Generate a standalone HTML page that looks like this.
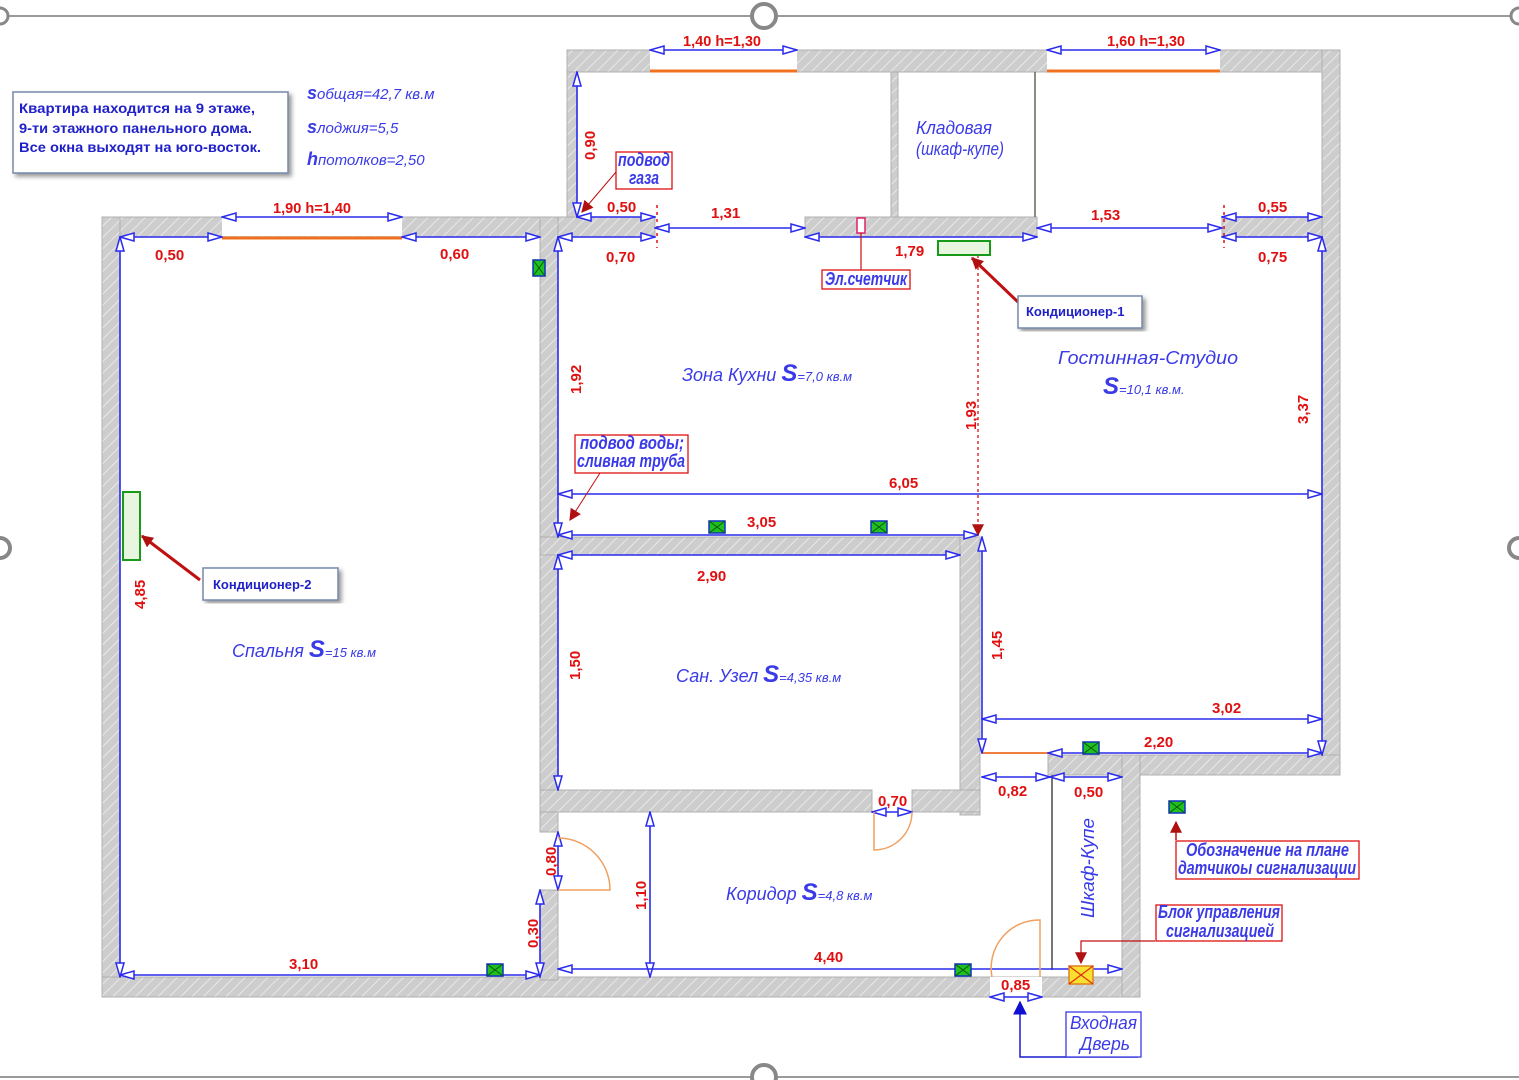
<!DOCTYPE html>
<html><head><meta charset="utf-8"><style>
html,body{margin:0;padding:0;background:#fff;}
svg{display:block;}
.d{fill:#e01010;font-family:"Liberation Sans",sans-serif;font-weight:bold;font-size:15px;}
.b{fill:#3a3ae8;font-family:"Liberation Sans",sans-serif;font-style:italic;font-size:18px;}
.dim{stroke:#2a2aee;stroke-width:1.6;fill:none;marker-start:url(#ar);marker-end:url(#ar);}
.w{fill:url(#h);stroke:#b0b0b0;stroke-width:1;}
</style></head><body>
<svg width="1519" height="1080" viewBox="0 0 1519 1080" xmlns="http://www.w3.org/2000/svg">
<defs>
<pattern id="h" width="8" height="8" patternUnits="userSpaceOnUse" patternTransform="rotate(45)">
<rect width="8" height="8" fill="#cdcdcd"/><line x1="0" y1="0" x2="0" y2="8" stroke="#e8e8e8" stroke-width="2"/>
</pattern>
<marker id="ar" viewBox="0 0 16 10" refX="15" refY="5" markerWidth="16" markerHeight="10" markerUnits="userSpaceOnUse" orient="auto-start-reverse">
<path d="M1,1 L15,5 L1,9 Z" fill="#fff" stroke="#2a2aee" stroke-width="1.5"/>
</marker>
<marker id="rr" viewBox="0 0 10 10" refX="9" refY="5" markerWidth="12" markerHeight="12" markerUnits="userSpaceOnUse" orient="auto">
<path d="M0,0 L10,5 L0,10 Z" fill="#b01010"/>
</marker>
<marker id="bb" viewBox="0 0 10 10" refX="9" refY="5" markerWidth="14" markerHeight="14" markerUnits="userSpaceOnUse" orient="auto">
<path d="M0,0 L10,5 L0,10 Z" fill="#1010d0"/>
</marker>
<g id="sen"><rect x="0" y="0" width="16" height="12" fill="#20c020" stroke="#1030c0" stroke-width="1.5"/><path d="M0,0 L16,12 M16,0 L0,12" stroke="#0a5a0a" stroke-width="1"/></g>
<filter id="sh"><feDropShadow dx="3" dy="3" stdDeviation="2" flood-color="#555" flood-opacity="0.6"/></filter>
</defs>

<line x1="0" y1="16" x2="1519" y2="16" stroke="#9a9a9a" stroke-width="2"/>
<line x1="0" y1="1077" x2="1519" y2="1077" stroke="#9a9a9a" stroke-width="2"/>
<circle cx="764" cy="16" r="12" fill="#fff" stroke="#888" stroke-width="4"/>
<circle cx="764" cy="1077" r="12" fill="#fff" stroke="#888" stroke-width="4"/>
<circle cx="0" cy="548" r="10" fill="#fff" stroke="#888" stroke-width="4"/>
<circle cx="1519" cy="548" r="10" fill="#fff" stroke="#888" stroke-width="4"/>
<circle cx="0" cy="16" r="8" fill="#fff" stroke="#888" stroke-width="3"/>
<circle cx="1519" cy="16" r="8" fill="#fff" stroke="#888" stroke-width="3"/>

<rect class="w" x="102" y="217" width="456" height="20"/>
<rect class="w" x="102" y="217" width="18" height="780"/>
<rect class="w" x="102" y="977" width="1038" height="20"/>
<rect class="w" x="540" y="217" width="18" height="615"/>
<rect class="w" x="540" y="890" width="18" height="90"/>
<rect class="w" x="567" y="50" width="10" height="187"/>
<rect class="w" x="567" y="50" width="773" height="22"/>
<rect class="w" x="1322" y="50" width="18" height="725"/>
<rect class="w" x="558" y="217" width="97" height="20"/>
<rect class="w" x="805" y="217" width="232" height="20"/>
<rect class="w" x="1222" y="217" width="100" height="20"/>
<rect class="w" x="891" y="72" width="7" height="145"/>
<rect class="w" x="540" y="537" width="440" height="18"/>
<rect class="w" x="960" y="537" width="20" height="278"/>
<rect class="w" x="540" y="790" width="332" height="22"/>
<rect class="w" x="912" y="790" width="68" height="22"/>
<rect class="w" x="1048" y="755" width="292" height="20"/>
<rect class="w" x="1122" y="755" width="18" height="242"/>
<rect x="650" y="50" width="147" height="21" fill="#fff"/>
<rect x="1047" y="50" width="173" height="21" fill="#fff"/>
<rect x="222" y="217" width="180" height="19" fill="#fff"/>
<line x1="650" y1="71" x2="797" y2="71" stroke="#f07020" stroke-width="3"/>
<line x1="1047" y1="71" x2="1220" y2="71" stroke="#f07020" stroke-width="3"/>
<line x1="222" y1="238" x2="402" y2="238" stroke="#f07020" stroke-width="3"/>
<line x1="1035" y1="72" x2="1035" y2="217" stroke="#665" stroke-width="1.5"/>
<line x1="1052" y1="775" x2="1052" y2="970" stroke="#777" stroke-width="2"/>
<line x1="982" y1="753" x2="1048" y2="753" stroke="#f08040" stroke-width="2"/>

<rect x="13" y="92" width="275" height="81" fill="#fff" stroke="#7788aa" stroke-width="1.5" filter="url(#sh)"/>
<text x="19" y="113" font-family="Liberation Sans" font-weight="bold" font-size="14" fill="#2020c8" textLength="236" lengthAdjust="spacingAndGlyphs">Квартира находится на 9 этаже,</text>
<text x="19" y="133" font-family="Liberation Sans" font-weight="bold" font-size="14" fill="#2020c8" textLength="233" lengthAdjust="spacingAndGlyphs">9-ти этажного панельного дома.</text>
<text x="19" y="152" font-family="Liberation Sans" font-weight="bold" font-size="14" fill="#2020c8" textLength="242" lengthAdjust="spacingAndGlyphs">Все окна выходят на юго-восток.</text>
<text x="307" y="99" class="b" font-size="26" font-weight="bold">s<tspan font-size="15" font-weight="normal">общая=42,7 кв.м</tspan></text>
<text x="307" y="133" class="b" font-size="26" font-weight="bold">s<tspan font-size="15" font-weight="normal">лоджия=5,5</tspan></text>
<text x="307" y="165" class="b" font-size="28" font-weight="bold">h<tspan font-size="15" font-weight="normal">потолков=2,50</tspan></text>

<line class="dim" x1="650" y1="50" x2="797" y2="50"/><text class="d" x="683" y="46" textLength="78" lengthAdjust="spacingAndGlyphs">1,40 h=1,30</text>
<line class="dim" x1="1047" y1="50" x2="1220" y2="50"/><text class="d" x="1107" y="46" textLength="78" lengthAdjust="spacingAndGlyphs">1,60 h=1,30</text>
<line class="dim" x1="222" y1="217" x2="402" y2="217"/><text class="d" x="273" y="213" textLength="78" lengthAdjust="spacingAndGlyphs">1,90 h=1,40</text>
<line class="dim" x1="120" y1="237" x2="222" y2="237"/><text class="d" x="155" y="260">0,50</text>
<line class="dim" x1="402" y1="237" x2="540" y2="237"/><text class="d" x="440" y="259">0,60</text>
<line class="dim" x1="577" y1="72" x2="577" y2="217"/><text class="d" transform="translate(595,160) rotate(-90)">0,90</text>
<line class="dim" x1="577" y1="217" x2="655" y2="217"/><text class="d" x="607" y="212">0,50</text>
<line class="dim" x1="558" y1="237" x2="655" y2="237"/><text class="d" x="606" y="262">0,70</text>
<line x1="657" y1="205" x2="657" y2="248" stroke="#e01010" stroke-width="1.5" stroke-dasharray="3,4"/>
<line class="dim" x1="655" y1="228" x2="805" y2="228"/><text class="d" x="711" y="218">1,31</text>
<line class="dim" x1="805" y1="237" x2="1037" y2="237"/><text class="d" x="895" y="256">1,79</text>
<line class="dim" x1="1037" y1="228" x2="1222" y2="228"/><text class="d" x="1091" y="220">1,53</text>
<line x1="1224" y1="205" x2="1224" y2="248" stroke="#e01010" stroke-width="1.5" stroke-dasharray="3,4"/>
<line class="dim" x1="1222" y1="217" x2="1322" y2="217"/><text class="d" x="1258" y="212">0,55</text>
<line class="dim" x1="1222" y1="237" x2="1322" y2="237"/><text class="d" x="1258" y="262">0,75</text>

<line class="dim" x1="558" y1="237" x2="558" y2="537"/><text class="d" transform="translate(581,394) rotate(-90)">1,92</text>
<line class="dim" x1="558" y1="494" x2="1322" y2="494"/><text class="d" x="889" y="488">6,05</text>
<line class="dim" x1="558" y1="535" x2="978" y2="535"/><text class="d" x="747" y="527">3,05</text>
<line class="dim" x1="1322" y1="237" x2="1322" y2="755"/><text class="d" transform="translate(1308,424) rotate(-90)">3,37</text>
<line x1="978" y1="255" x2="978" y2="535" stroke="#e01010" stroke-width="1.3" stroke-dasharray="3,3" marker-end="url(#rr)"/>
<text class="d" transform="translate(976,430) rotate(-90)">1,93</text>
<line class="dim" x1="982" y1="537" x2="982" y2="753"/><text class="d" transform="translate(1002,660) rotate(-90)">1,45</text>
<line class="dim" x1="982" y1="719" x2="1322" y2="719"/><text class="d" x="1212" y="713">3,02</text>
<line class="dim" x1="1048" y1="753" x2="1322" y2="753"/><text class="d" x="1144" y="747">2,20</text>
<text class="b" x="682" y="381">Зона Кухни <tspan font-size="24" font-weight="bold">S</tspan><tspan font-size="13">=7,0 кв.м</tspan></text>
<text class="b" x="1058" y="364" textLength="180" lengthAdjust="spacingAndGlyphs">Гостинная-Студио</text>
<text class="b" x="1103" y="394"><tspan font-size="24" font-weight="bold">S</tspan><tspan font-size="13">=10,1 кв.м.</tspan></text>
<text class="b" x="916" y="134" font-size="16" textLength="76" lengthAdjust="spacingAndGlyphs">Кладовая</text>
<text class="b" x="916" y="155" font-size="13" textLength="88" lengthAdjust="spacingAndGlyphs">(шкаф-купе)</text>

<line class="dim" x1="558" y1="555" x2="960" y2="555"/><text class="d" x="697" y="581">2,90</text>
<line class="dim" x1="558" y1="555" x2="558" y2="790"/><text class="d" transform="translate(580,680) rotate(-90)">1,50</text>
<text class="b" x="676" y="682">Сан. Узел <tspan font-size="24" font-weight="bold">S</tspan><tspan font-size="13">=4,35 кв.м</tspan></text>

<line class="dim" x1="120" y1="237" x2="120" y2="977"/><text class="d" transform="translate(145,609) rotate(-90)">4,85</text>
<line class="dim" x1="120" y1="975" x2="540" y2="975"/><text class="d" x="289" y="969">3,10</text>
<text class="b" x="232" y="657">Спальня <tspan font-size="24" font-weight="bold">S</tspan><tspan font-size="13">=15 кв.м</tspan></text>
<rect x="123" y="492" width="17" height="68" fill="#e8f6e0" stroke="#1a9a1a" stroke-width="2"/>
<line x1="200" y1="580" x2="142" y2="536" stroke="#c01010" stroke-width="3" marker-end="url(#rr)"/>
<rect x="203" y="568" width="135" height="32" fill="#fff" stroke="#7788aa" stroke-width="1.5" filter="url(#sh)"/>
<text x="213" y="589" font-family="Liberation Sans" font-weight="bold" font-size="13" fill="#2020c8">Кондиционер-2</text>

<rect x="938" y="241" width="52" height="14" fill="#e8f6e0" stroke="#1a9a1a" stroke-width="2"/>
<line x1="1018" y1="302" x2="972" y2="258" stroke="#c01010" stroke-width="3" marker-end="url(#rr)"/>
<rect x="1018" y="296" width="124" height="32" fill="#fff" stroke="#7788aa" stroke-width="1.5" filter="url(#sh)"/>
<text x="1026" y="316" font-family="Liberation Sans" font-weight="bold" font-size="13" fill="#2020c8">Кондиционер-1</text>

<rect x="857" y="218" width="8" height="15" fill="#fff" stroke="#e0206a" stroke-width="1.5"/>
<line x1="861" y1="233" x2="861" y2="270" stroke="#c01010" stroke-width="1.2"/>
<rect x="822" y="270" width="88" height="19" fill="#fff" stroke="#e01010" stroke-width="1.3"/>
<text class="b" x="825" y="285" font-size="13" font-weight="bold" textLength="82" lengthAdjust="spacingAndGlyphs">Эл.счетчик</text>

<rect x="616" y="152" width="56" height="37" fill="#fff" stroke="#e01010" stroke-width="1.3"/>
<text class="b" x="618" y="166" font-size="13" font-weight="bold" textLength="52" lengthAdjust="spacingAndGlyphs">подвод</text>
<text class="b" x="629" y="184" font-size="13" font-weight="bold" textLength="30" lengthAdjust="spacingAndGlyphs">газа</text>
<line x1="616" y1="172" x2="582" y2="212" stroke="#c01010" stroke-width="1" marker-end="url(#rr)"/>
<rect x="575" y="435" width="113" height="38" fill="#fff" stroke="#e01010" stroke-width="1.3"/>
<text class="b" x="580" y="449" font-size="13" font-weight="bold" textLength="104" lengthAdjust="spacingAndGlyphs">подвод воды;</text>
<text class="b" x="577" y="467" font-size="13" font-weight="bold" textLength="108" lengthAdjust="spacingAndGlyphs">сливная труба</text>
<line x1="600" y1="473" x2="570" y2="520" stroke="#c01010" stroke-width="1" marker-end="url(#rr)"/>

<line class="dim" x1="558" y1="832" x2="558" y2="890"/><text class="d" transform="translate(556,876) rotate(-90)">0,80</text>
<path d="M558,890 L610,890 A52,52 0 0 0 558,838" fill="none" stroke="#f0a060" stroke-width="1.5"/>
<line class="dim" x1="540" y1="890" x2="540" y2="977"/><text class="d" transform="translate(538,948) rotate(-90)">0,30</text>
<line class="dim" x1="650" y1="812" x2="650" y2="977"/><text class="d" transform="translate(646,910) rotate(-90)">1,10</text>
<line class="dim" x1="558" y1="969" x2="1122" y2="969"/><text class="d" x="814" y="962">4,40</text>
<line class="dim" x1="872" y1="812" x2="912" y2="812"/><text class="d" x="878" y="806" font-size="13">0,70</text>
<path d="M912,812 A38,38 0 0 1 874,850 L874,812" fill="none" stroke="#f0a060" stroke-width="1.5"/>
<line class="dim" x1="982" y1="777" x2="1050" y2="777"/><text class="d" x="998" y="796">0,82</text>
<line class="dim" x1="1050" y1="777" x2="1122" y2="777"/><text class="d" x="1074" y="797">0,50</text>
<text class="b" transform="translate(1094,918) rotate(-90)" font-size="15" textLength="100" lengthAdjust="spacingAndGlyphs">Шкаф-Купе</text>
<text class="b" x="726" y="900">Коридор <tspan font-size="24" font-weight="bold">S</tspan><tspan font-size="13">=4,8 кв.м</tspan></text>
<rect x="990" y="977" width="52" height="21" fill="#fff"/>
<path d="M992,977 A48,48 0 0 1 1040,920 L1040,977" fill="none" stroke="#f0a060" stroke-width="1.5"/>
<line class="dim" x1="990" y1="997" x2="1042" y2="997"/><text class="d" x="1001" y="990" font-size="13">0,85</text>
<polyline points="1138,1057 1020,1057 1020,1002" fill="none" stroke="#1a1ad0" stroke-width="1.5" marker-end="url(#bb)"/>
<rect x="1066" y="1012" width="75" height="45" fill="#fff" stroke="#3a3ae8" stroke-width="1.3"/>
<text class="b" x="1070" y="1029" font-size="15" textLength="67" lengthAdjust="spacingAndGlyphs">Входная</text>
<text class="b" x="1080" y="1050" font-size="15" textLength="50" lengthAdjust="spacingAndGlyphs">Дверь</text>

<rect x="1069" y="966" width="24" height="18" fill="#f8e030" stroke="#e08020" stroke-width="1.5"/>
<path d="M1069,966 L1093,984 M1093,966 L1069,984" stroke="#e03010" stroke-width="1.2"/>
<polyline points="1155,941 1081,941 1081,963" fill="none" stroke="#c01010" stroke-width="1.2" marker-end="url(#rr)"/>
<rect x="1156" y="905" width="126" height="36" fill="#fff" stroke="#e01010" stroke-width="1.3"/>
<text class="b" x="1158" y="918" font-size="13" font-weight="bold" textLength="122" lengthAdjust="spacingAndGlyphs">Блок управления</text>
<text class="b" x="1166" y="937" font-size="13" font-weight="bold" textLength="108" lengthAdjust="spacingAndGlyphs">сигнализацией</text>
<use href="#sen" x="1169" y="801"/>
<polyline points="1176,840 1176,822" fill="none" stroke="#c01010" stroke-width="1.5" marker-end="url(#rr)"/>
<rect x="1176" y="841" width="183" height="38" fill="#fff" stroke="#e01010" stroke-width="1.3"/>
<text class="b" x="1186" y="856" font-size="13" font-weight="bold" textLength="163" lengthAdjust="spacingAndGlyphs">Обозначение на плане</text>
<text class="b" x="1178" y="874" font-size="13" font-weight="bold" textLength="178" lengthAdjust="spacingAndGlyphs">датчикоы сигнализации</text>

<use href="#sen" x="529" y="260" transform="rotate(90 537 268)"/>
<use href="#sen" x="709" y="521"/>
<use href="#sen" x="871" y="521"/>
<use href="#sen" x="487" y="964"/>
<use href="#sen" x="955" y="964"/>
<use href="#sen" x="1083" y="742"/>
</svg>
</body></html>
